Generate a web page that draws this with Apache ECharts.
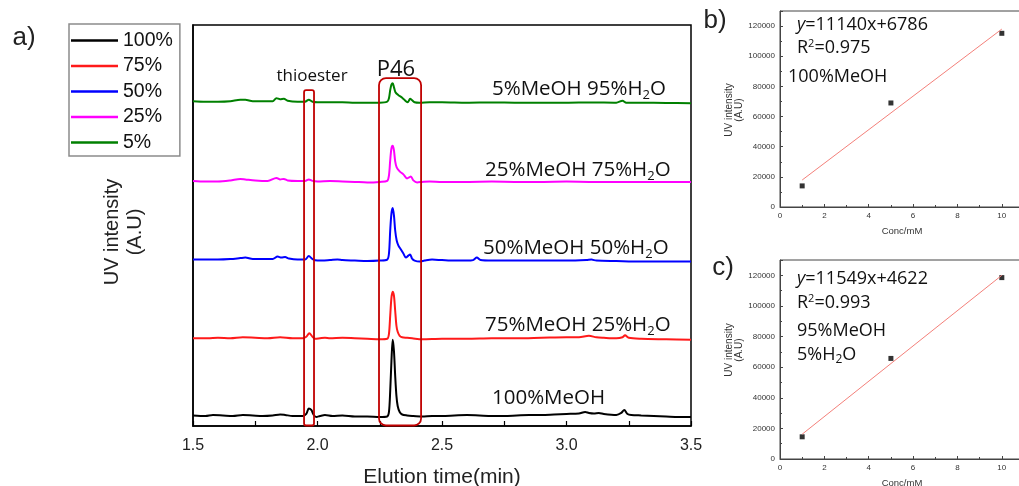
<!DOCTYPE html>
<html><head><meta charset="utf-8">
<script src="https://cdn.jsdelivr.net/npm/echarts@6/dist/echarts.min.js"></script>
<style>html,body{margin:0;padding:0;background:#fff}#c{width:1019px;height:486px}</style>
</head><body><div id="c"></div>
<script>
// ---- Panel a: chromatogram traces [time (min), stacked UV intensity (arb.)] ----
const trace100 = [[1.5,10.5],[1.55,10],[1.58,11],[1.62,10.5],[1.66,10],[1.7,11],[1.74,10.5],[1.78,10],[1.82,10.5],[1.85,11.5],[1.87,11],[1.9,10],[1.94,10],[1.955,12],[1.965,17.5],[1.975,16],[1.985,11],[1.995,9],[2.01,10],[2.03,11],[2.06,10],[2.1,10.5],[2.15,9.5],[2.2,9.5],[2.25,9],[2.28,9.5],[2.287,14],[2.292,35],[2.297,65],[2.302,86],[2.307,75],[2.312,50],[2.317,30],[2.322,20],[2.33,14],[2.34,11.5],[2.36,10.5],[2.38,10],[2.42,9.5],[2.46,10],[2.5,10],[2.55,10.5],[2.6,11],[2.65,10.5],[2.7,10],[2.75,10],[2.8,10.5],[2.85,11],[2.9,11],[2.95,11.5],[3.0,12],[3.05,12.5],[3.075,14],[3.09,13],[3.11,12.5],[3.13,13],[3.15,12],[3.2,11],[3.22,13],[3.232,16],[3.245,12],[3.26,11],[3.3,10.5],[3.35,10],[3.4,9.5],[3.45,9],[3.5,9]];
const trace75 = [[1.5,87.5],[1.56,87.5],[1.6,88],[1.65,87.5],[1.7,88.5],[1.75,88],[1.8,87.5],[1.85,88.5],[1.9,87.5],[1.94,87.5],[1.955,89],[1.967,92.5],[1.98,89],[1.99,87],[2.01,87.5],[2.03,88],[2.05,87.5],[2.1,88],[2.15,87.5],[2.2,87],[2.25,86.5],[2.28,87],[2.287,92],[2.292,110],[2.297,128],[2.302,134],[2.307,130],[2.312,115],[2.317,100],[2.322,94],[2.33,90],[2.34,88.5],[2.36,88],[2.38,87.5],[2.42,86.5],[2.5,87],[2.6,87],[2.7,87.5],[2.8,87.5],[2.9,88],[3.0,88.5],[3.05,88.5],[3.09,90],[3.12,88.5],[3.15,88],[3.2,87.5],[3.225,88.5],[3.235,90.5],[3.25,88],[3.3,87],[3.4,86.5],[3.5,86]];
const trace50 = [[1.5,166],[1.55,166],[1.6,166],[1.65,166.5],[1.69,167.5],[1.71,168],[1.74,166.5],[1.78,166.5],[1.82,166.5],[1.84,169],[1.855,168],[1.87,168.5],[1.885,167],[1.92,166],[1.95,166],[1.965,169.5],[1.98,166.5],[2.0,165],[2.05,165.5],[2.08,166],[2.1,165.5],[2.15,165],[2.2,164.5],[2.25,165],[2.28,166],[2.287,172],[2.292,195],[2.297,212],[2.302,217.5],[2.307,210],[2.312,195],[2.318,185],[2.325,180],[2.335,176],[2.345,172],[2.355,168],[2.365,170],[2.372,171],[2.38,167],[2.39,165],[2.41,164],[2.43,165],[2.46,166],[2.5,165.5],[2.55,165],[2.6,165],[2.625,165.5],[2.64,168],[2.655,165.5],[2.7,165],[2.8,165],[2.9,165],[3.0,165],[3.08,165.5],[3.1,166],[3.12,165],[3.2,164.5],[3.3,164],[3.4,164],[3.5,164]];
const trace25 = [[1.5,244.5],[1.55,244],[1.6,244],[1.65,245],[1.69,246.5],[1.71,246],[1.75,245],[1.8,244.5],[1.835,247.5],[1.85,246],[1.865,246.5],[1.88,245],[1.92,244.5],[1.95,244.5],[1.965,246],[1.98,244.5],[2.0,244],[2.05,244.5],[2.1,244],[2.15,243.5],[2.2,243],[2.25,243.5],[2.28,244.5],[2.287,250],[2.292,265],[2.297,277],[2.302,279.5],[2.307,275],[2.312,264],[2.318,258],[2.33,254],[2.345,251],[2.36,247],[2.368,248],[2.375,249],[2.385,245],[2.4,243],[2.42,243.5],[2.45,244],[2.5,243.5],[2.6,243.5],[2.7,243.8],[2.8,243.5],[2.9,243.5],[3.0,243.8],[3.1,243.5],[3.2,243.5],[3.3,243.5],[3.4,243.5],[3.5,243.5]];
const trace5 = [[1.5,324],[1.55,323.5],[1.6,323.5],[1.65,324],[1.69,325.5],[1.71,325.5],[1.74,324],[1.78,324],[1.82,324],[1.835,327],[1.85,326],[1.865,326.5],[1.88,324.5],[1.92,323.5],[1.95,323.5],[1.965,325.5],[1.98,323.5],[2.0,323],[2.05,323],[2.1,323],[2.15,322.5],[2.2,322.5],[2.25,322.5],[2.28,323.5],[2.287,327],[2.292,335],[2.297,340.5],[2.302,342],[2.307,338],[2.313,333],[2.325,330],[2.34,327.5],[2.355,324],[2.363,323],[2.372,326.5],[2.38,325],[2.39,323],[2.41,322.5],[2.45,323],[2.5,323],[2.6,322.5],[2.7,322.8],[2.8,322.5],[2.9,322.5],[3.0,322.5],[3.1,322.8],[3.2,322.5],[3.225,324.5],[3.24,322.5],[3.3,322.5],[3.4,322.3],[3.5,322]];
const traceNames = ['100%','75%','50%','25%','5%'];
const traceColors = ['#000000','#ff1a1a','#0000ff','#ff00ff','#008000'];
const traceLabels = ['100%MeOH','75%MeOH 25%H{s|2}O','50%MeOH 50%H{s|2}O','25%MeOH 75%H{s|2}O','5%MeOH 95%H{s|2}O'];
const xTicksA = [1.5,2.0,2.5,3.0,3.5];
// highlight boxes [t0, t1, yTop] in data units
const boxThio = [1.946,1.986,335];
const boxP46 = [2.247,2.416,347];

// ---- Panel b / c: calibration ----
const concB = [1,5,10];
const uvB = [14000,69000,115200];
const fitB = [[1,17900],[10,118000]];
const concC = [1,5,10];
const uvC = [14500,65700,118500];
const fitC = [[1,16200],[10,120000]];

const chart = echarts.init(document.getElementById('c'), null, {renderer:'canvas'});
const ARIAL = '"Liberation Sans", Arial, sans-serif';
const OPEN = '"Open Sans", sans-serif';

const traces = [trace100,trace75,trace50,trace25,trace5];
const series = traces.map((d,i)=>({
  name: traceNames[i], type:'line', xAxisIndex:0, yAxisIndex:0, data:d,
  symbol:'none', smooth:0.3, lineStyle:{color:traceColors[i], width:2}, itemStyle:{color:traceColors[i]},
  z: 3
}));
function small(gi, conc, uv, fit){
  series.push({type:'line', xAxisIndex:gi, yAxisIndex:gi, data:fit, symbol:'none', lineStyle:{color:'#f4807a', width:1}, silent:true});
  series.push({type:'scatter', xAxisIndex:gi, yAxisIndex:gi, data:conc.map((c,k)=>[c,uv[k]]), symbol:'rect', symbolSize:5, itemStyle:{color:'#000'}, silent:true});
}
small(1, concB, uvB, fitB);
small(2, concC, uvC, fitC);

function smallX(gi){
  return {gridIndex:gi, type:'value', min:0, max:11, interval:2,
    axisLine:{lineStyle:{color:'#444',width:1}}, axisTick:{inside:true,length:3,lineStyle:{color:'#444'}},
    minorTick:{show:true,splitNumber:2,length:2,lineStyle:{color:'#444'}},
    axisLabel:{fontSize:8, color:'#333', fontFamily:ARIAL, margin:5, showMaxLabel:false, formatter:v=>String(v)},
    splitLine:{show:false}, name:'Conc/mM', nameLocation:'middle', nameGap:19,
    nameTextStyle:{fontSize:9.5, color:'#333', fontFamily:ARIAL}};
}
function smallY(gi){
  return {gridIndex:gi, type:'value', min:0, max:130000, interval:20000,
    axisLine:{show:true,lineStyle:{color:'#444',width:1}}, axisTick:{show:true,inside:true,length:3,lineStyle:{color:'#444'}},
    minorTick:{show:true,splitNumber:2,length:2,lineStyle:{color:'#444'}},
    axisLabel:{fontSize:8, color:'#333', fontFamily:ARIAL, margin:5, showMaxLabel:false, formatter:v=>String(v)},
    splitLine:{show:false}};
}

chart.setOption({
  animation:false,
  backgroundColor:'#fff',
  grid:[
    {left:193, top:25, width:498, height:401, show:true, borderColor:'#000', borderWidth:1.5, containLabel:false, outerBoundsMode:'none'},
    {left:780, top:11, width:244, height:196, show:true, borderColor:'#444', borderWidth:1, containLabel:false, outerBoundsMode:'none'},
    {left:780, top:260, width:244, height:199, show:true, borderColor:'#444', borderWidth:1, containLabel:false, outerBoundsMode:'none'}
  ],
  xAxis:[
    {gridIndex:0, type:'value', min:1.5, max:3.5, interval:0.25,
     axisLine:{lineStyle:{color:'#000',width:1.5}}, axisTick:{inside:true,length:5,lineStyle:{color:'#000',width:1.2}},
     axisLabel:{fontSize:16, color:'#222', fontFamily:ARIAL, margin:12,
       formatter:v=>{const t=xTicksA.find(x=>Math.abs(x-v)<1e-6); return t===undefined?'':t.toFixed(1);}},
     splitLine:{show:false}, name:'Elution time(min)', nameLocation:'middle', nameGap:41,
     nameTextStyle:{fontSize:21, color:'#222', fontFamily:ARIAL}},
    smallX(1), smallX(2)
  ],
  yAxis:[
    {gridIndex:0, type:'value', min:0, max:400, axisLine:{show:true,lineStyle:{color:'#000',width:1.5}},
     axisTick:{show:false}, axisLabel:{show:false}, splitLine:{show:false}},
    smallY(1), smallY(2)
  ],
  legend:{orient:'vertical', left:69, top:24, data:traceNames, icon:'rect', itemWidth:47, itemHeight:2.5,
    itemGap:4.5, padding:[6,7,3,2], borderColor:'#8c8c8c', borderWidth:1.5,
    textStyle:{fontSize:19.5, color:'#111', fontFamily:ARIAL, lineHeight:21}},
  series: series
});

function px(p){ return chart.convertToPixel({xAxisIndex:0, yAxisIndex:0}, p); }
function boxRect(b, r){
  const a = px([b[0], b[2]]), c = px([b[1], 0.5]);
  return {type:'rect', shape:{x:a[0], y:a[1], width:c[0]-a[0], height:c[1]-a[1], r:r}, z:10,
    style:{fill:null, stroke:'#c00000', lineWidth:1.8}};
}
const subRich = {s:{fontSize:13, lineHeight:13, padding:[12,0,0,0], fontFamily:OPEN, fill:'#111'}};
function label(text, x, y, size, align){
  return {type:'text', x:x, y:y, z:20, style:{text:text, font:size+'px '+OPEN, fill:'#111', align:align||'left', verticalAlign:'middle', rich:subRich}};
}
const labelPos = [[492,398],[485,325],[483,248],[485,170],[492,89]];
const graphics = [boxRect(boxThio, 2), boxRect(boxP46, 7)];
traceLabels.forEach((t,i)=>graphics.push(label(t, labelPos[i][0], labelPos[i][1], 20.5)));
graphics.push({type:'text', x:312, y:76, z:20, style:{text:'thioester', font:'17px '+OPEN, fill:'#111', align:'center', verticalAlign:'middle'}});
graphics.push({type:'text', x:396, y:70, z:20, style:{text:'P46', font:'22px '+OPEN, fill:'#111', align:'center', verticalAlign:'middle'}});
graphics.push({type:'text', x:124, y:232, rotation:Math.PI/2, z:20, style:{text:'UV intensity\n(A.U)', font:'20px '+ARIAL, lineHeight:23, fill:'#222', align:'center', verticalAlign:'middle'}});
graphics.push({type:'text', x:24, y:38, z:20, style:{text:'a)', font:'26px '+ARIAL, fill:'#222', align:'center', verticalAlign:'middle'}});
graphics.push({type:'text', x:715, y:21, z:20, style:{text:'b)', font:'26px '+ARIAL, fill:'#222', align:'center', verticalAlign:'middle'}});
graphics.push({type:'text', x:723, y:268, z:20, style:{text:'c)', font:'26px '+ARIAL, fill:'#222', align:'center', verticalAlign:'middle'}});
graphics.push({type:'text', x:734, y:110, rotation:Math.PI/2, z:20, style:{text:'UV intensity\n(A.U)', font:'10px '+ARIAL, lineHeight:10, fill:'#333', align:'center', verticalAlign:'middle'}});
graphics.push({type:'text', x:734, y:350, rotation:Math.PI/2, z:20, style:{text:'UV intensity\n(A.U)', font:'10px '+ARIAL, lineHeight:10, fill:'#333', align:'center', verticalAlign:'middle'}});
const eqRich = {
  i:{fontStyle:'italic', fontSize:18, fontFamily:OPEN, fill:'#111'},
  p:{fontSize:11, lineHeight:11, padding:[0,0,9,0], fontFamily:OPEN, fill:'#111'},
  s:{fontSize:12, lineHeight:12, padding:[10,0,0,0], fontFamily:OPEN, fill:'#111'}
};
function eq(text, x, y){
  return {type:'text', x:x, y:y, z:20, style:{text:text, font:'18px '+OPEN, fill:'#111', align:'left', verticalAlign:'middle', rich:eqRich}};
}
graphics.push(eq('{i|y}=11140x+6786', 797, 25));
graphics.push(eq('R{p|2}=0.975', 797, 48));
graphics.push(eq('100%MeOH', 788, 77));
graphics.push(eq('{i|y}=11549x+4622', 797, 279));
graphics.push(eq('R{p|2}=0.993', 797, 303));
graphics.push(eq('95%MeOH', 797, 331));
graphics.push(eq('5%H{s|2}O', 797, 355));
chart.setOption({graphic: graphics});
</script></body></html>
